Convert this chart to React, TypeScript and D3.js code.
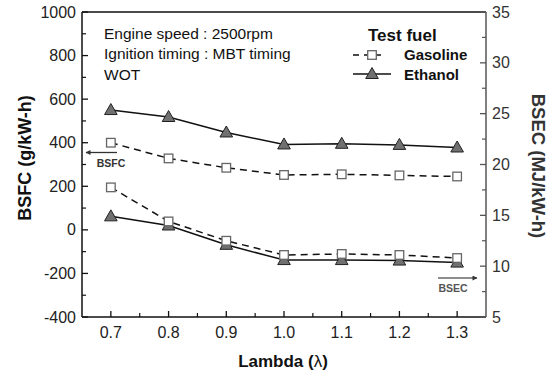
import React from "react";
import * as d3 from "d3";

const lambdas = [0.7, 0.8, 0.9, 1.0, 1.1, 1.2, 1.3];
const gasolineBSFC = [400, 328, 285, 252, 255, 250, 245];
const ethanolBSFC = [550, 518, 447, 392, 395, 390, 378];
const gasolineBSEC = [17.75, 14.4, 12.5, 11.1, 11.2, 11.1, 10.8];
const ethanolBSEC = [14.9, 14.0, 12.1, 10.6, 10.6, 10.55, 10.35];
const xTicks = [0.7, 0.8, 0.9, 1.0, 1.1, 1.2, 1.3];
const leftTicks = [-400, -200, 0, 200, 400, 600, 800, 1000];
const rightTicks = [5, 10, 15, 20, 25, 30, 35];
const annotations = ["Engine speed : 2500rpm", "Ignition timing : MBT timing", "WOT"];

const W = 554, H = 374;
const L = 82, R = 486, T = 12, B = 317;
const font = "'Liberation Sans', Arial, sans-serif";

export default function App() {
  const x = d3.scaleLinear().domain([0.65, 1.35]).range([L, R]);
  const yl = d3.scaleLinear().domain([-400, 1000]).range([B, T]);
  const yr = d3.scaleLinear().domain([5, 35]).range([B, T]);

  const lineL = d3.line<number>().x((_, i) => x(lambdas[i])).y((d) => yl(d));
  const lineR = d3.line<number>().x((_, i) => x(lambdas[i])).y((d) => yr(d));

  const xMinor = d3.range(0.75, 1.3, 0.1);
  const lMinor = d3.range(-300, 1000, 200);
  const rMinor = d3.range(7.5, 35, 5);

  const sq = (cx: number, cy: number, k: string) => (
    <rect key={k} x={cx - 4.3} y={cy - 4.3} width={8.6} height={8.6} fill="#fff" stroke="#666" strokeWidth={1.3} />
  );
  const tri = (cx: number, cy: number, k: string) => (
    <path key={k} d={`M${cx},${cy - 6.5}L${cx + 6.3},${cy + 4.5}L${cx - 6.3},${cy + 4.5}Z`} fill="#707070" stroke="#222" strokeWidth={1} />
  );

  return (
    <svg width={W} height={H} style={{ position: "absolute", left: 0, top: 0, background: "#fff" }} fontFamily={font}>
      <defs>
        <marker id="ah" viewBox="0 0 10 10" refX="9" refY="5" markerWidth="7" markerHeight="5" orient="auto-start-reverse" markerUnits="userSpaceOnUse">
          <path d="M0,0L10,5L0,10Z" fill="#333" />
        </marker>
      </defs>
      {/* frame */}
      <line x1={L} x2={R} y1={T} y2={T} stroke="#111" strokeWidth={1.5} />
      <line x1={L} x2={R} y1={B} y2={B} stroke="#111" strokeWidth={1.5} />
      <line x1={L} x2={L} y1={T} y2={B} stroke="#111" strokeWidth={1.5} />
      <line x1={R} x2={R} y1={T} y2={B} stroke="#555" strokeWidth={1.5} />

      {/* x ticks */}
      {xTicks.map((v) => (
        <g key={"xt" + v}>
          <line x1={x(v)} x2={x(v)} y1={B} y2={B - 6} stroke="#111" strokeWidth={1.3} />
          <text x={x(v)} y={B + 20.5} textAnchor="middle" fontSize={16} fill="#222">{v.toFixed(1)}</text>
        </g>
      ))}
      {xMinor.map((v) => (
        <line key={"xm" + v} x1={x(v)} x2={x(v)} y1={B} y2={B - 4} stroke="#111" strokeWidth={1.2} />
      ))}

      {/* left ticks */}
      {leftTicks.map((v) => (
        <g key={"lt" + v}>
          <line x1={L} x2={L + 6} y1={yl(v)} y2={yl(v)} stroke="#111" strokeWidth={1.3} />
          <text x={L - 6} y={yl(v) + 5.5} textAnchor="end" fontSize={16} fill="#222">{v}</text>
        </g>
      ))}
      {lMinor.map((v) => (
        <line key={"lm" + v} x1={L} x2={L + 4} y1={yl(v)} y2={yl(v)} stroke="#111" strokeWidth={1.2} />
      ))}

      {/* right ticks */}
      {rightTicks.map((v) => (
        <g key={"rt" + v}>
          <line x1={R} x2={R - 6} y1={yr(v)} y2={yr(v)} stroke="#555" strokeWidth={1.3} />
          <text x={R + 6} y={yr(v) + 5.5} textAnchor="start" fontSize={16} fill="#333">{v}</text>
        </g>
      ))}
      {rMinor.map((v) => (
        <line key={"rm" + v} x1={R} x2={R - 4} y1={yr(v)} y2={yr(v)} stroke="#555" strokeWidth={1.2} />
      ))}

      {/* axis labels */}
      <text transform={`translate(31,158) rotate(-90)`} textAnchor="middle" fontSize={18} fontWeight="bold" fill="#111">BSFC (g/kW-h)</text>
      <text transform={`translate(532,166) rotate(90)`} textAnchor="middle" fontSize={18.5} fontWeight="bold" fill="#333">BSEC (MJ/kW-h)</text>
      <text x={283} y={366.5} textAnchor="middle" fontSize={17} fontWeight="bold" fill="#111">Lambda (<tspan fontWeight="normal">λ</tspan>)</text>

      {/* lines */}
      <path d={lineL(gasolineBSFC) || ""} fill="none" stroke="#111" strokeWidth={1.5} strokeDasharray="7,5" />
      <path d={lineL(ethanolBSFC) || ""} fill="none" stroke="#111" strokeWidth={1.5} />
      <path d={lineR(gasolineBSEC) || ""} fill="none" stroke="#111" strokeWidth={1.5} strokeDasharray="7,5" />
      <path d={lineR(ethanolBSEC) || ""} fill="none" stroke="#111" strokeWidth={1.5} />

      {/* markers */}
      {gasolineBSFC.map((v, i) => sq(x(lambdas[i]), yl(v), "gf" + i))}
      {ethanolBSFC.map((v, i) => tri(x(lambdas[i]), yl(v), "ef" + i))}
      {ethanolBSEC.map((v, i) => tri(x(lambdas[i]), yr(v), "ee" + i))}
      {gasolineBSEC.map((v, i) => sq(x(lambdas[i]), yr(v), "ge" + i))}

      {/* arrows */}
      <line x1={117} x2={86} y1={152.5} y2={152.5} stroke="#333" strokeWidth={1.3} markerEnd="url(#ah)" />
      <text x={111} y={166.5} textAnchor="middle" fontSize={10.5} fontWeight="bold" fill="#333">BSFC</text>
      <line x1={438} x2={477} y1={278} y2={278} stroke="#666" strokeWidth={1.3} markerEnd="url(#ah)" />
      <text x={453} y={292} textAnchor="middle" fontSize={10.5} fontWeight="bold" fill="#555">BSEC</text>

      {/* annotations */}
      {annotations.map((s, i) => (
        <text key={s} x={104} y={38.5 + i * 20.5} fontSize={15.5} fill="#111">{s}</text>
      ))}

      {/* legend */}
      <text x={368} y={40.5} fontSize={17} fontWeight="bold" fill="#111">Test fuel</text>
      <line x1={353} x2={386} y1={55} y2={55} stroke="#111" strokeWidth={1.5} strokeDasharray="6,5" />
      {sq(372, 55, "lg")}
      <text x={404} y={60} fontSize={15} fontWeight="bold" fill="#111">Gasoline</text>
      <line x1={353} x2={391} y1={74} y2={74} stroke="#111" strokeWidth={1.5} />
      {tri(372, 74, "le")}
      <text x={404} y={79.5} fontSize={15} fontWeight="bold" fill="#111">Ethanol</text>
    </svg>
  );
}
